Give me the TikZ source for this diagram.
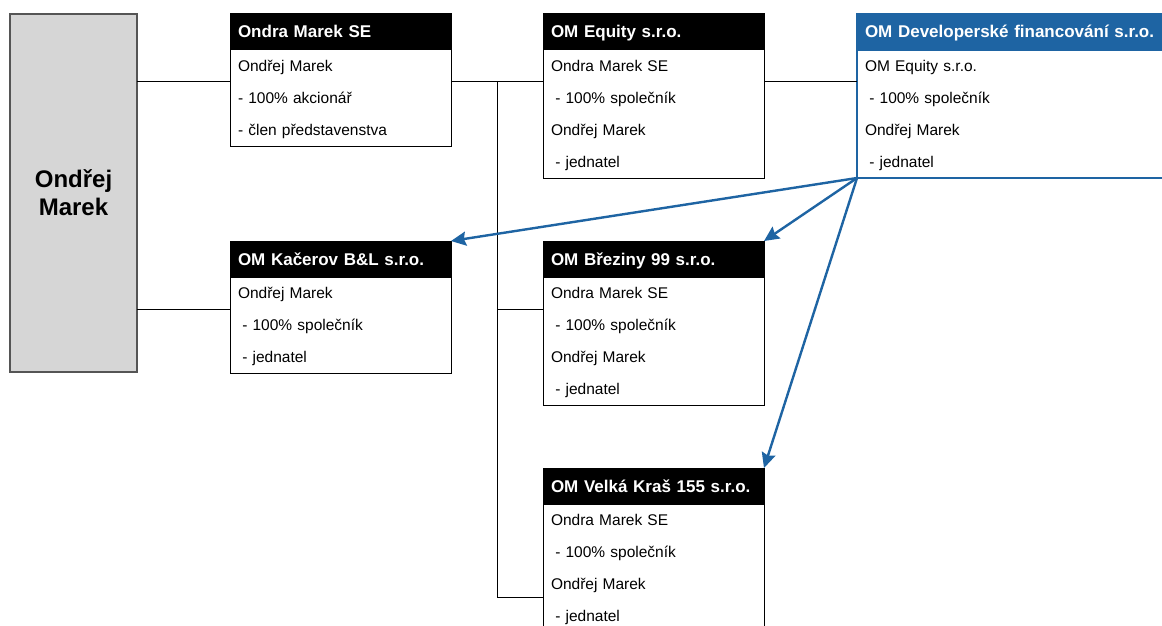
\documentclass[tikz,border=0pt]{standalone}
\usepackage{fontspec}
\setmainfont{Liberation Sans}
\usetikzlibrary{arrows.meta,calc}
\definecolor{omblue}{RGB}{30,100,163}
\definecolor{omgray}{RGB}{214,214,214}
\definecolor{omedge}{RGB}{85,85,85}
\newcommand{\hdrfont}{\fontsize{17}{20}\selectfont\bfseries}
\newcommand{\bodyfont}{\fontsize{15.5}{32}\selectfont}
\newcommand{\lspc}{\hspace*{4.3pt}}
\newcommand{\toprule}{\rule{0pt}{15pt}}
\tikzset{
  hdr/.style={anchor=north west, fill=black, draw=black, text=white, line width=1pt,
    outer sep=0pt, text width=205pt, inner xsep=8pt, inner ysep=0pt,
    text height=14pt, text depth=2pt, minimum height=36pt, align=left, font=\hdrfont},
  bodybox/.style={anchor=north west, draw=black, fill=white, line width=1pt, outer sep=0pt,
    text width=205pt, inner xsep=8pt, minimum height=#1, align=left, font=\bodyfont},
  link/.style={draw=black, line width=1pt},
  bluearrow/.style={draw=omblue, line width=2.4pt, -{Stealth[length=15pt,width=14pt,inset=2pt]}}
}
\begin{document}
\begin{tikzpicture}[x=1pt,y=-1pt]
\useasboundingbox (0,0) rectangle (1162,626);
\clip (0,0) rectangle (1162,626);
\fill[white] (0,0) rectangle (1162,626);

% person
\node[draw=omedge, fill=omgray, line width=1.2pt, anchor=north west, outer sep=0pt,
      minimum width=127pt, minimum height=358pt, align=center,
      font=\fontsize{24}{28}\selectfont\bfseries] (om) at (10,14) {Ondřej\\Marek};

% Ondra Marek SE
\node[hdr] (seH) at (230,14) {Ondra Marek SE};
\node[bodybox=96pt] (seB) at (seH.south west) {\toprule Ondřej Marek\\- 100\% akcionář\\- člen představenstva};

% OM Equity
\node[hdr] (eqH) at (543,14) {OM Equity s.r.o.};
\node[bodybox=128pt] (eqB) at (eqH.south west) {\toprule Ondra Marek SE\\\lspc- 100\% společník\\Ondřej Marek\\\lspc- jednatel};

% OM Developerske
\node[hdr, fill=omblue, draw=omblue, line width=2pt, text width=330pt] (devH) at (857,14) {OM Developerské financování s.r.o.};
\node[bodybox=128pt, draw=omblue, line width=2pt, text width=330pt] (devB) at (devH.south west) {\toprule OM Equity s.r.o.\\\lspc- 100\% společník\\Ondřej Marek\\\lspc- jednatel};

% OM Kacerov
\node[hdr] (kaH) at (230,241) {OM Kačerov B\&L s.r.o.};
\node[bodybox=96pt] (kaB) at (kaH.south west) {\toprule Ondřej Marek\\\lspc- 100\% společník\\\lspc- jednatel};

% OM Breziny
\node[hdr] (bzH) at (543,241) {OM Březiny 99 s.r.o.};
\node[bodybox=128pt] (bzB) at (bzH.south west) {\toprule Ondra Marek SE\\\lspc- 100\% společník\\Ondřej Marek\\\lspc- jednatel};

% OM Velka Kras
\node[hdr] (vkH) at (543,468) {OM Velká Kraš 155 s.r.o.};
\node[bodybox=128pt] (vkB) at (vkH.south west) {\toprule Ondra Marek SE\\\lspc- 100\% společník\\Ondřej Marek\\\lspc- jednatel};

% connection points
\coordinate (seIn) at ($(seB.north west)+(0,32)$);
\coordinate (seOut) at ($(seB.north east)+(0,32)$);
\coordinate (eqIn) at ($(eqB.north west)+(0,32)$);
\coordinate (eqOut) at ($(eqB.north east)+(0,32)$);
\coordinate (devIn) at (devB.west |- eqOut);
\coordinate (kaIn) at ($(kaB.north west)+(0,32)$);
\coordinate (bzIn) at ($(bzB.north west)+(0,32)$);
\coordinate (vkIn) at ($(vkB.north west)+(0,93)$);
\coordinate (trunk) at ($(seOut)!0.5!(eqIn)$);

\draw[link] (om.east |- seIn) -- (seIn);
\draw[link] (om.east |- kaIn) -- (kaIn);
\draw[link] (seOut) -- (eqIn);
\draw[link] (eqOut) -- (devIn);
\draw[link] (trunk) -- (trunk |- vkIn) -- (vkIn);
\draw[link] (trunk |- bzIn) -- (bzIn);

% blue arrows
\draw[bluearrow] (devB.south west) -- (kaH.north east);
\draw[bluearrow] (devB.south west) -- (bzH.north east);
\draw[bluearrow] (devB.south west) -- (vkH.north east);
\end{tikzpicture}
\end{document}
